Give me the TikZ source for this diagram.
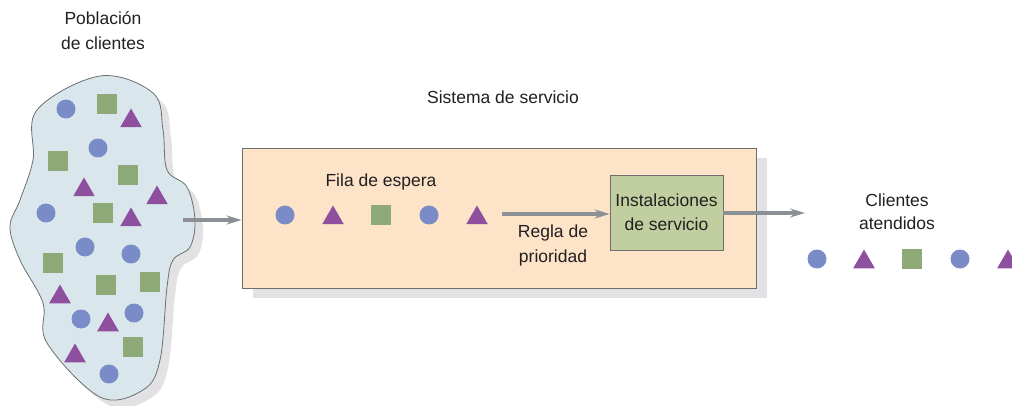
\documentclass[tikz,border=0pt]{standalone}
\usepackage{fontspec}
\setmainfont{Liberation Sans}
\usetikzlibrary{shapes.geometric,arrows.meta,shadows}
\definecolor{blobfill}{RGB}{217,231,237}
\definecolor{shadowc}{RGB}{226,226,229}
\definecolor{cblue}{RGB}{122,140,200}
\definecolor{sgreen}{RGB}{141,170,120}
\definecolor{tpurple}{RGB}{142,79,158}
\definecolor{peach}{RGB}{253,227,200}
\definecolor{servfill}{RGB}{192,206,160}
\definecolor{arrgray}{RGB}{140,144,150}
\definecolor{edgegray}{RGB}{110,110,110}
\definecolor{txt}{RGB}{35,31,32}
\begin{document}
\begin{tikzpicture}[x=1pt,y=-1pt,
  lbl/.style={text=txt,align=center,font=\fontsize{17.5}{25}\selectfont,inner sep=0pt},
  cir/.style={circle,fill=cblue,minimum size=19pt,inner sep=0pt},
  sqr/.style={rectangle,fill=sgreen,minimum size=20pt,inner sep=0pt},
  tri/.style={regular polygon,regular polygon sides=3,fill=tpurple,minimum size=25pt,inner sep=0pt},
  flow/.style={draw=arrgray,line width=3.2pt,-{Stealth[length=15pt,width=9pt,inset=5pt]}},
  boxshadow/.style={drop shadow={shadow xshift=11pt,shadow yshift=-10pt,fill=shadowc,opacity=1}}
]
\useasboundingbox (0,0) rectangle (1012,406);
% blob shadow and blob
\def\blobpath{plot[smooth cycle,tension=0.6] coordinates {(100,76) (37,110) (33,160) (20,200) (10,227) (20,260) (43,303) (47,343) (100,397) (143,390) (160,360) (167,287) (173,260) (190,247) (195,220) (187,187) (167,170) (163,130) (153,93)}}
\fill[shadowc,shift={(8,8)}] \blobpath;
\filldraw[fill=blobfill,draw=edgegray,line width=0.8pt] \blobpath;
\coordinate (blobR) at (183,220);
% population shapes
\node[cir] (p1) at (66,109) {};
\node[cir] (p2) at (98,148) {};
\node[cir] (p3) at (46,213) {};
\node[cir] (p4) at (85,247) {};
\node[cir] (p5) at (131,254) {};
\node[cir] (p6) at (81,319) {};
\node[cir] (p7) at (134,313) {};
\node[cir] (p8) at (109,374) {};
\node[sqr] (s1) at (107,104) {};
\node[sqr] (s2) at (58,161) {};
\node[sqr] (s3) at (128,175) {};
\node[sqr] (s4) at (103,213) {};
\node[sqr] (s5) at (53,263) {};
\node[sqr] (s6) at (106,285) {};
\node[sqr] (s7) at (150,282) {};
\node[sqr] (s8) at (133,347) {};
\node[tri] (t1) at (131,121) {};
\node[tri] (t2) at (84,190) {};
\node[tri] (t3) at (157,198) {};
\node[tri] (t4) at (131,220) {};
\node[tri] (t5) at (60,297) {};
\node[tri] (t6) at (108,325) {};
\node[tri] (t7) at (75,356) {};
\node[lbl] (pob) at (103,31) {Población\\de clientes};
% system
\node[lbl] (sistlbl) at (503,97) {Sistema de servicio};
\node[boxshadow,draw=edgegray,line width=0.8pt,fill=peach,minimum width=514pt,minimum height=140pt,inner sep=0pt] (sys) at (499,218) {};
\node[lbl] (fila) at (381,182) {Fila de espera};
\node[cir] (q1) at (285,215) {};
\node[tri] (q2) at (333,218) {};
\node[sqr] (q3) at (381,215) {};
\node[cir] (q4) at (429,215) {};
\node[tri] (q5) at (477,218) {};
\coordinate (qa) at (502,214);
\node[draw=edgegray,line width=0.8pt,fill=servfill,minimum width=113pt,minimum height=75pt,inner sep=0pt,lbl,font=\fontsize{17.5}{24}\selectfont] (serv) at (666.5,212.5) {Instalaciones\\de servicio};
\node[lbl] (regla) at (553,245) {Regla de\\prioridad};
% arrows
\draw[flow] (blobR) -- (sys.west |- blobR);
\draw[flow] (qa) -- (serv.west |- qa);
\coordinate (outa) at (805,213);
\draw[flow] (serv.east |- outa) -- (outa);
% served customers
\node[lbl,font=\fontsize{17.5}{23}\selectfont] (atend) at (897,212) {Clientes\\atendidos};
\node[cir] (a1) at (817,259) {};
\node[tri] (a2) at (864,262) {};
\node[sqr] (a3) at (912,259) {};
\node[cir] (a4) at (960,259) {};
\node[tri] (a5) at (1008,262) {};
\end{tikzpicture}
\end{document}
